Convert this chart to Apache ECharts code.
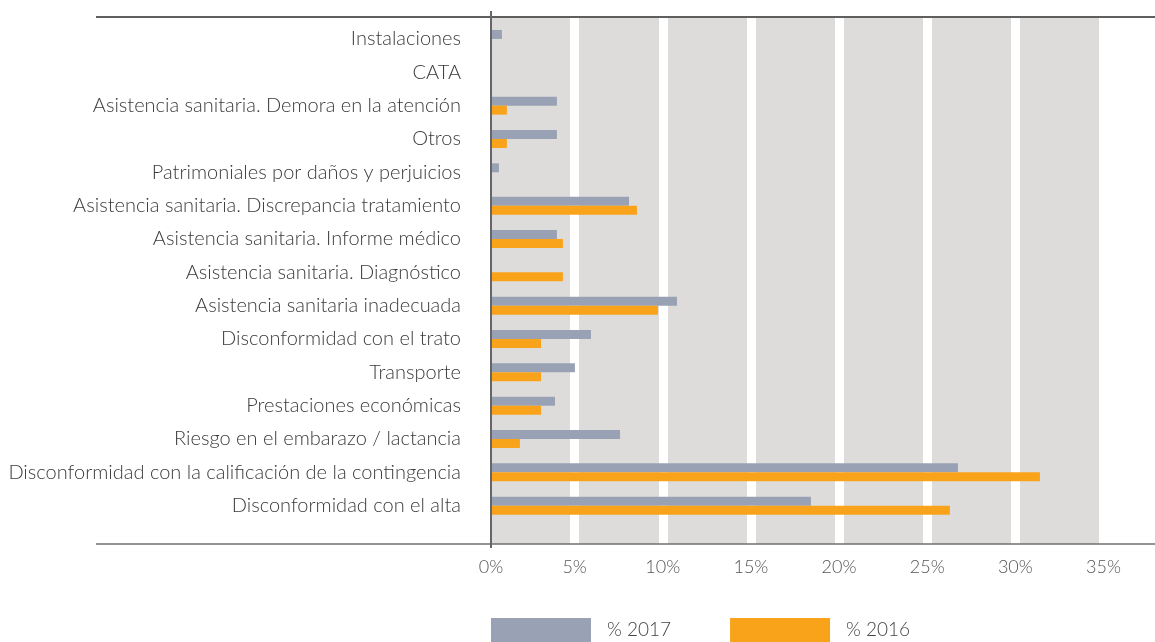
<!DOCTYPE html>
<html>
<head>
<meta charset="utf-8">
<script src="https://cdn.jsdelivr.net/npm/echarts@6/dist/echarts.min.js"></script>
<style>
  html, body { margin: 0; padding: 0; background: #fff; }
  #chart { width: 1155px; height: 642px; }
</style>
</head>
<body>
<div id="chart"></div>
<script>
  // categorias, de arriba a abajo
  const categories = [
    'Instalaciones',
    'CATA',
    'Asistencia sanitaria. Demora en la atención',
    'Otros',
    'Patrimoniales por daños y perjuicios',
    'Asistencia sanitaria. Discrepancia tratamiento',
    'Asistencia sanitaria. Informe médico',
    'Asistencia sanitaria. Diagnóstico',
    'Asistencia sanitaria inadecuada',
    'Disconformidad con el trato',
    'Transporte',
    'Prestaciones económicas',
    'Riesgo en el embarazo / lactancia',
    'Disconformidad con la calificación de la contingencia',
    'Disconformidad con el alta'
  ]
  const values2017 = [0.62, 0, 3.74, 3.74, 0.45, 7.83, 3.74, 0, 10.55, 5.67, 4.76, 3.63, 7.32, 26.49, 18.15]
  const values2016 = [0, 0, 0.9, 0.9, 0, 8.28, 4.08, 4.08, 9.47, 2.84, 2.84, 2.84, 1.64, 31.14, 26.03]
  const seriesNames = ['% 2017', '% 2016']
  const xMax = 35
  const xStep = 5

  const font = 'Lato, "Open Sans", sans-serif'
  const chart = echarts.init(document.getElementById('chart'))

  chart.setOption({
    animation: false,
    textStyle: { fontFamily: font },
    grid: [
      // fondo con franjas
      { left: 491, width: 617, top: 17, height: 527 },
      // barras
      { left: 491, width: 617, top: 22.3, height: 500 }
    ],
    legend: {
      data: seriesNames,
      left: 491,
      top: 618,
      padding: 0,
      icon: 'rect',
      itemWidth: 100,
      itemHeight: 24,
      itemGap: 59,
      textStyle: { fontSize: 19, color: '#444', fontWeight: 300, padding: [0, 0, 0, 11] }
    },
    xAxis: [
      {
        // eje de franjas, desplazado medio hueco
        gridIndex: 0,
        type: 'value',
        min: 0.255,
        max: xMax + 0.255,
        minInterval: xStep,
        maxInterval: xStep,
        axisLine: { show: false },
        axisTick: { show: false },
        axisLabel: {
          margin: 14,
          fontSize: 18,
          color: '#555',
          fontWeight: 300,
          showMaxLabel: false,
          formatter: v => Math.round(v) + '%'
        },
        splitLine: { show: true, showMinLine: false, lineStyle: { color: '#fff', width: 9 } },
        splitArea: { show: true, areaStyle: { color: ['#dedcdb'] } }
      },
      {
        gridIndex: 1,
        type: 'value',
        min: 0,
        max: xMax,
        interval: xStep,
        show: false
      }
    ],
    yAxis: [
      { gridIndex: 0, type: 'value', show: false },
      {
        gridIndex: 1,
        type: 'category',
        inverse: true,
        data: categories,
        axisLine: { show: false },
        axisTick: { show: false },
        axisLabel: { margin: 30, fontSize: 20, color: '#3a3a3a', fontWeight: 300 }
      }
    ],
    series: [
      {
        name: seriesNames[0],
        type: 'bar',
        xAxisIndex: 1,
        yAxisIndex: 1,
        data: values2017,
        barWidth: 9,
        barGap: '0%',
        itemStyle: { color: '#99a2b4' }
      },
      {
        name: seriesNames[1],
        type: 'bar',
        xAxisIndex: 1,
        yAxisIndex: 1,
        data: values2016,
        barWidth: 9,
        barGap: '0%',
        itemStyle: { color: '#f9a31b' }
      }
    ],
    graphic: [
      { type: 'line', z: 100, shape: { x1: 96, y1: 17, x2: 1155, y2: 17 }, style: { stroke: '#5f5f5f', lineWidth: 2 } },
      { type: 'line', z: 100, shape: { x1: 96, y1: 544, x2: 1155, y2: 544 }, style: { stroke: '#6f6f6f', lineWidth: 1.5 } },
      { type: 'line', z: 100, shape: { x1: 491, y1: 11, x2: 491, y2: 548 }, style: { stroke: '#666', lineWidth: 2 } }
    ]
  })
</script>
</body>
</html>
